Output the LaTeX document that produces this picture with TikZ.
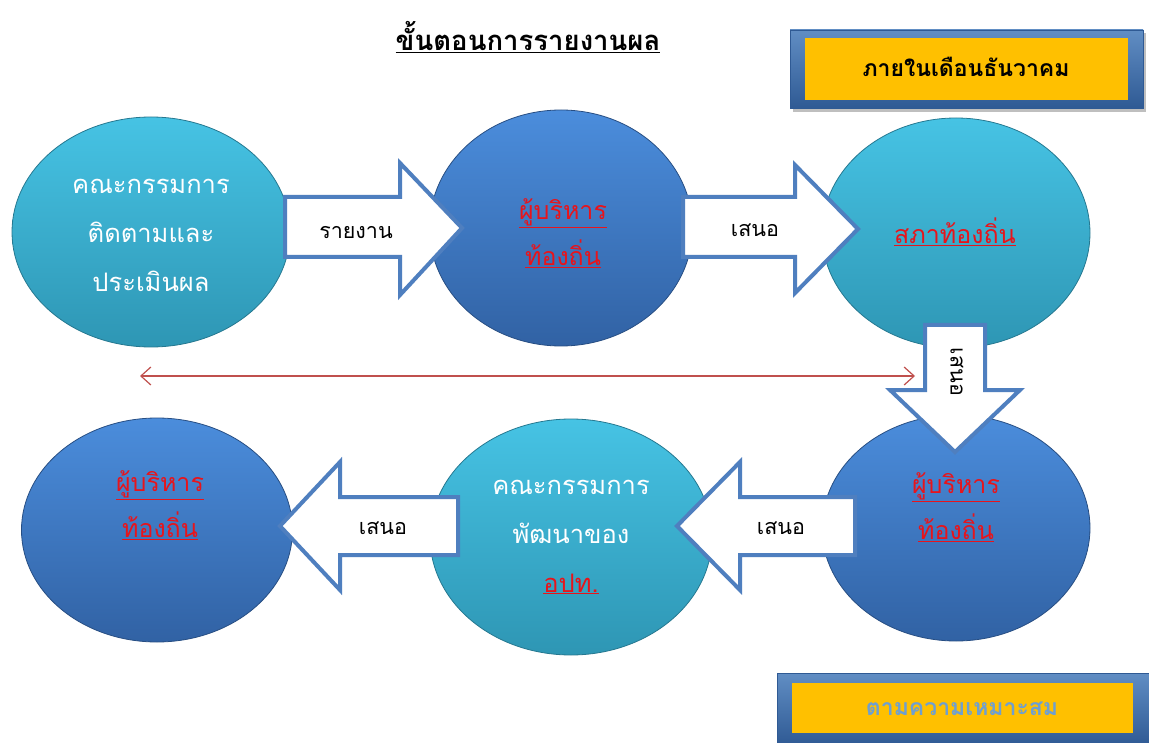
\documentclass[tikz,border=0pt]{standalone}
\usepackage{fontspec}
\newfontfamily\thai[Script=Thai]{Loma}
\usetikzlibrary{shapes.geometric,arrows.meta}
\definecolor{tealtop}{HTML}{46C3E4}
\definecolor{tealbot}{HTML}{2E96B4}
\definecolor{bluetop}{HTML}{4B8DDC}
\definecolor{bluebot}{HTML}{3162A4}
\definecolor{arrowblue}{HTML}{4F7FBF}
\definecolor{thred}{HTML}{E8141B}
\definecolor{linered}{HTML}{C0504D}
\definecolor{boxorange}{HTML}{FFC000}
\definecolor{boxblue}{HTML}{4F81BD}
\definecolor{boxbluedark}{HTML}{2F5A94}
\definecolor{softtext}{HTML}{6F9FCF}
\tikzset{
  every node/.style={font=\thai},
  tealell/.style={ellipse, inner sep=0pt, top color=tealtop, bottom color=tealbot, draw=tealbot!80!black, line width=0.8pt},
  blueell/.style={ellipse, inner sep=0pt, top color=bluetop, bottom color=bluebot, draw=bluebot!80!black, line width=0.8pt},
  blockarrow/.style={draw=arrowblue, fill=white, line width=4pt, line join=miter},
  whitetxt/.style={text=white, font=\thai\fontsize{25.5}{49}\selectfont, align=center},
  redtxt/.style={text=thred, font=\thai\fontsize{25}{46}\selectfont, align=center},
  arrowlbl/.style={text=black, font=\thai\fontsize{21.5}{24}\selectfont},
  bevelouter/.style={top color=boxblue!90!white, bottom color=boxbluedark, draw=boxbluedark, line width=0.8pt},
  bevelinner/.style={fill=boxorange, draw=none},
}
\begin{document}
\begin{tikzpicture}[x=1pt,y=-1pt]
\useasboundingbox (0,0) rectangle (1149,743);
\fill[white] (0,0) rectangle (1149,743);

% title
\node (title) at (528,37) {\fontsize{27.5}{30}\selectfont\bfseries\underline{ขั้นตอนการรายงานผล}};

% top-right box
\fill[black!25] (793,33) rectangle (1146,112);
\draw[bevelouter] (790,30) rectangle (1143,108);
\fill[bevelinner] (805,38) rectangle (1128,100);
\node (dec) at (966,67) {\fontsize{23}{26}\selectfont\bfseries ภายในเดือนธันวาคม};

% bottom-right box
\fill[black!25] (780,676) rectangle (1149,743);
\draw[bevelouter] (777,673) rectangle (1149,745);
\fill[bevelinner] (792,683) rectangle (1133,733);
\node[text=softtext] (suit) at (962,709) {\fontsize{23}{26}\selectfont\bfseries ตามความเหมาะสม};

% ellipses
\node[tealell, minimum width=278pt, minimum height=230pt] (e1) at (151,232) {};
\node[blueell, minimum width=263pt, minimum height=236pt] (e2) at (561,228) {};
\node[tealell, minimum width=268pt, minimum height=230pt] (e3) at (956,233) {};
\node[blueell, minimum width=271pt, minimum height=224pt] (e4) at (157,530) {};
\node[tealell, minimum width=282pt, minimum height=236pt] (e5) at (571,537) {};
\node[blueell, minimum width=268pt, minimum height=226pt] (e6) at (956,528) {};

\node[whitetxt] (t1) at (151,235) {คณะกรรมการ\\ติดตามและ\\ประเมินผล};
\node[redtxt] (t2) at (563,233) {\underline{ผู้บริหาร}\\\underline{ท้องถิ่น}};
\node[redtxt] (t3) at (955,232) {\underline{สภาท้องถิ่น}};
\node[redtxt] (t4) at (160,505) {\underline{ผู้บริหาร}\\\underline{ท้องถิ่น}};
\node[whitetxt, text=white] (t5) at (571,537) {คณะกรรมการ\\พัฒนาของ\\\textcolor{thred}{\underline{อปท.}}};
\node[redtxt] (t6) at (956,507) {\underline{ผู้บริหาร}\\\underline{ท้องถิ่น}};

% red double arrow
\coordinate (rl) at (140,376);
\coordinate (rr) at (915,376);
\draw[linered, line width=1.2pt, {Straight Barb[length=10pt,width=18pt]}-{Straight Barb[length=10pt,width=18pt]}] (rl) -- (rr);

% block arrows
\draw[blockarrow] (285,197) -- (400,197) -- (400,163) -- (462,228) -- (400,295) -- (400,257) -- (285,257) -- cycle;
\node[arrowlbl] (a1) at (356,233) {รายงาน};

\draw[blockarrow] (683,197) -- (795,197) -- (795,165) -- (858,229) -- (795,293) -- (795,257) -- (683,257) -- cycle;
\node[arrowlbl] (a2) at (755,230) {เสนอ};

\draw[blockarrow] (925,325) -- (985,325) -- (985,390) -- (1020,390) -- (955,452) -- (890,390) -- (925,390) -- cycle;
\node[arrowlbl, rotate=-90] (a3) at (957,372) {เสนอ};

\draw[blockarrow] (855,497) -- (740,497) -- (740,462) -- (677,526) -- (740,590) -- (740,555) -- (855,555) -- cycle;
\node[arrowlbl] (a4) at (781,528) {เสนอ};

\draw[blockarrow] (458,497) -- (340,497) -- (340,462) -- (280,526) -- (340,590) -- (340,555) -- (458,555) -- cycle;
\node[arrowlbl] (a5) at (383,528) {เสนอ};
\end{tikzpicture}
\end{document}
